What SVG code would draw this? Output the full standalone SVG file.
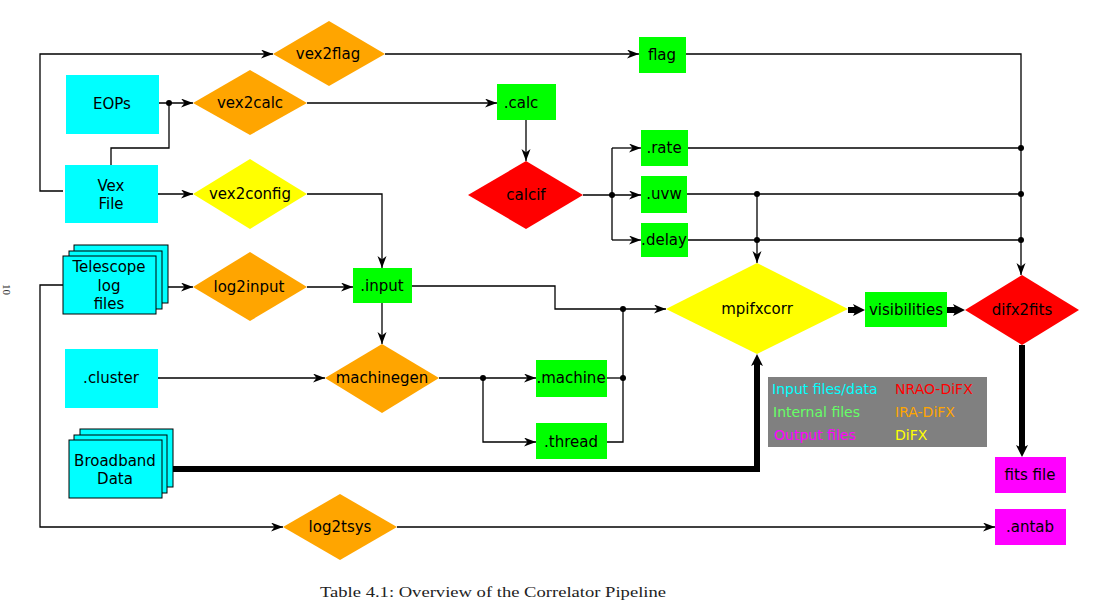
<svg xmlns="http://www.w3.org/2000/svg" width="1095" height="611" viewBox="0 0 1095 611">
<style>
.t{font-family:"DejaVu Sans",sans-serif;font-size:15px;fill:#000;text-anchor:middle}
.lg{font-family:"DejaVu Sans",sans-serif;font-size:14px}
.c{fill:#00ffff}.o{fill:#ffa500}.g{fill:#00ff00}.r{fill:#ff0000}.y{fill:#ffff00}.m{fill:#ff00ff}
.st{fill:#00ffff;stroke:#000;stroke-width:1}
.ln{fill:none;stroke:#000;stroke-width:1.3}
.th{fill:none;stroke:#000;stroke-width:6}
.dot{fill:#000}
</style>
<defs>
<marker id="a" markerUnits="userSpaceOnUse" markerWidth="14" markerHeight="10" refX="12" refY="4.5" orient="auto"><path d="M0,0 L12,4.5 L0,9 L3.5,4.5 z" fill="#000"/></marker>
<marker id="A" markerUnits="userSpaceOnUse" markerWidth="14" markerHeight="12" refX="4" refY="6" orient="auto"><path d="M0,0 L12,6 L0,12 L3,6 z" fill="#000"/></marker>
</defs>
<rect width="1095" height="611" fill="#fff"/>

<g id="connectors">
<path class="ln" d="M63,191 H40 V54 H273" marker-end="url(#a)"/>
<path class="ln" d="M159,103 H193" marker-end="url(#a)"/>
<path class="ln" d="M111,165 V148 H169 V103"/>
<path class="ln" d="M385,54 H639" marker-end="url(#a)"/>
<path class="ln" d="M686,54 H1021 V275" marker-end="url(#a)"/>
<path class="ln" d="M307,103 H497" marker-end="url(#a)"/>
<path class="ln" d="M526,120 V161" marker-end="url(#a)"/>
<path class="ln" d="M583,195 H641" marker-end="url(#a)"/>
<path class="ln" d="M612,148 V240"/>
<path class="ln" d="M612,148 H641" marker-end="url(#a)"/>
<path class="ln" d="M612,240 H641" marker-end="url(#a)"/>
<path class="ln" d="M688,148 H1021"/>
<path class="ln" d="M687,194 H1021"/>
<path class="ln" d="M688,240 H1021"/>
<path class="ln" d="M757,194 V263" marker-end="url(#a)"/>
<path class="ln" d="M158,194 H193" marker-end="url(#a)"/>
<path class="ln" d="M307,194 H382 V268" marker-end="url(#a)"/>
<path class="ln" d="M156,287 H193" marker-end="url(#a)"/>
<path class="ln" d="M63,285 H40 V527 H283" marker-end="url(#a)"/>
<path class="ln" d="M307,287 H353" marker-end="url(#a)"/>
<path class="ln" d="M382,303 V344" marker-end="url(#a)"/>
<path class="ln" d="M412,286 H555 V309 H666" marker-end="url(#a)"/>
<path class="ln" d="M158,378 H325" marker-end="url(#a)"/>
<path class="ln" d="M439,378 H536" marker-end="url(#a)"/>
<path class="ln" d="M483,378 V442 H536" marker-end="url(#a)"/>
<path class="ln" d="M607,378 H623"/>
<path class="ln" d="M607,442 H623 V309"/>
<path class="ln" d="M397,527 H995" marker-end="url(#a)"/>
<path class="th" d="M162,469 H757 V362" marker-end="url(#A)"/>
<path class="th" d="M848,310 H857" marker-end="url(#A)"/>
<path class="th" d="M947,310 H957" marker-end="url(#A)"/>
<path class="th" d="M1022,345 V449" marker-end="url(#A)"/>
<circle class="dot" cx="169" cy="103" r="3"/>
<circle class="dot" cx="612" cy="195" r="3"/>
<circle class="dot" cx="757" cy="194" r="3"/>
<circle class="dot" cx="757" cy="240" r="3"/>
<circle class="dot" cx="1021" cy="148" r="3"/>
<circle class="dot" cx="1021" cy="194" r="3"/>
<circle class="dot" cx="1021" cy="240" r="3"/>
<circle class="dot" cx="623" cy="309" r="3"/>
<circle class="dot" cx="623" cy="378" r="3"/>
<circle class="dot" cx="483" cy="378" r="3"/>
</g>

<g id="eops"><rect class="c" x="66" y="75" width="93" height="59"/><text class="t" x="112" y="109">EOPs</text></g>
<g id="vexfile"><rect class="c" x="65" y="165" width="93" height="58"/><text class="t" x="111" y="191">Vex</text><text class="t" x="111" y="209">File</text></g>
<g id="telescope"><rect class="st" x="74" y="245" width="94" height="58"/><rect class="st" x="69" y="251" width="93" height="58"/><rect class="st" x="63" y="256" width="93" height="58"/><text class="t" x="109" y="272">Telescope</text><text class="t" x="109" y="291">log</text><text class="t" x="109" y="309">files</text></g>
<g id="cluster"><rect class="c" x="65" y="349" width="93" height="59"/><text class="t" x="111" y="383">.cluster</text></g>
<g id="broadband"><rect class="st" x="80" y="429" width="93" height="58"/><rect class="st" x="74" y="435" width="93" height="58"/><rect class="st" x="69" y="440" width="93" height="58"/><text class="t" x="115" y="466">Broadband</text><text class="t" x="115" y="484">Data</text></g>

<g id="vex2flag"><polygon class="o" points="273,54 329,21 385,54 329,86"/><text class="t" x="328" y="59">vex2flag</text></g>
<g id="vex2calc"><polygon class="o" points="193,103 250,70 307,103 250,135"/><text class="t" x="250" y="108">vex2calc</text></g>
<g id="vex2config"><polygon class="y" points="193,194 250,159 307,194 250,229"/><text class="t" x="250" y="199">vex2config</text></g>
<g id="log2input"><polygon class="o" points="193,287 250,252 307,287 250,321"/><text class="t" x="249" y="292">log2input</text></g>
<g id="machinegen"><polygon class="o" points="325,378 382,344 439,378 382,413"/><text class="t" x="382" y="383">machinegen</text></g>
<g id="log2tsys"><polygon class="o" points="283,527 340,494 397,527 340,560"/><text class="t" x="340" y="532">log2tsys</text></g>
<g id="calcif"><polygon class="r" points="468,195 526,161 583,195 526,229"/><text class="t" x="526" y="200">calcif</text></g>
<g id="mpifxcorr"><polygon class="y" points="666,309 757,263 848,309 757,354"/><text class="t" x="757" y="314">mpifxcorr</text></g>
<g id="difx2fits"><polygon class="r" points="965,310 1022,275 1079,310 1022,345"/><text class="t" x="1022" y="315">difx2fits</text></g>

<g id="flag"><rect class="g" x="639" y="37" width="47" height="36"/><text class="t" x="662" y="60">flag</text></g>
<g id="calc"><rect class="g" x="497" y="84" width="59" height="36"/><text class="t" x="521" y="108">.calc</text></g>
<g id="rate"><rect class="g" x="641" y="130" width="47" height="36"/><text class="t" x="664" y="153">.rate</text></g>
<g id="uvw"><rect class="g" x="641" y="176" width="46" height="37"/><text class="t" x="664" y="199">.uvw</text></g>
<g id="delay"><rect class="g" x="641" y="223" width="47" height="34"/><text class="t" x="664" y="245">.delay</text></g>
<g id="input"><rect class="g" x="353" y="268" width="59" height="35"/><text class="t" x="382" y="291">.input</text></g>
<g id="machine"><rect class="g" x="536" y="360" width="71" height="37"/><text class="t" x="571" y="383">.machine</text></g>
<g id="thread"><rect class="g" x="536" y="423" width="71" height="36"/><text class="t" x="571" y="447">.thread</text></g>
<g id="visibilities"><rect class="g" x="865" y="292" width="82" height="35"/><text class="t" x="906" y="315">visibilities</text></g>
<g id="fitsfile"><rect class="m" x="995" y="457" width="71" height="36"/><text class="t" x="1030" y="480">fits file</text></g>
<g id="antab"><rect class="m" x="995" y="509" width="71" height="36"/><text class="t" x="1030" y="532">.antab</text></g>

<g id="legend">
<rect x="768" y="377" width="219" height="70" fill="#808080"/>
<text class="lg" x="772" y="394" fill="#00ffff">Input files/data</text>
<text class="lg" x="773" y="417" fill="#66ff66">Internal files</text>
<text class="lg" x="774" y="440" fill="#ff00ff">Output files</text>
<text class="lg" x="895" y="394" fill="#ff0000">NRAO-DiFX</text>
<text class="lg" x="895" y="417" fill="#ffa500">IRA-DiFX</text>
<text class="lg" x="895" y="440" fill="#ffff00">DiFX</text>
</g>

<text x="320" y="597" font-family="Liberation Serif, serif" font-size="15" fill="#222" textLength="346" lengthAdjust="spacingAndGlyphs">Table 4.1: Overview of the Correlator Pipeline</text>
<text transform="translate(3,284) rotate(90)" font-family="Liberation Serif, serif" font-size="11" fill="#333">10</text>
</svg>
